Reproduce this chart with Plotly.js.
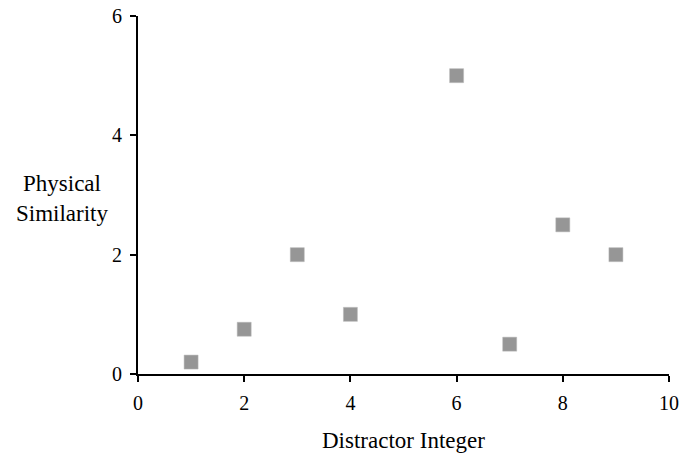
<!DOCTYPE html>
<html>
<head>
<meta charset="utf-8">
<script src="https://cdn.plot.ly/plotly-3.0.1.min.js"></script>
<style>html,body{margin:0;padding:0;background:#fff;}#chart{width:681px;height:458px;}</style>
</head>
<body>
<div id="chart"></div>
<script>
const distractorInteger = [1, 2, 3, 4, 6, 7, 8, 9];
const physicalSimilarity = [0.2, 0.75, 2, 1, 5, 0.5, 2.5, 2];
const xTickValues = [0, 2, 4, 6, 8, 10];
const yTickValues = [0, 2, 4, 6];

const font = 'Liberation Serif, Times New Roman, serif';

const trace = {
  x: distractorInteger,
  y: physicalSimilarity,
  type: 'scatter',
  mode: 'markers',
  marker: {symbol: 'square', size: 14, color: 'rgb(150,150,150)', line: {width: 0.5, color: 'rgb(185,185,185)'}},
  cliponaxis: false,
  hoverinfo: 'none'
};

const layout = {
  width: 681, height: 458,
  margin: {l: 138, r: 12, t: 16, b: 84, pad: 0},
  paper_bgcolor: '#fff', plot_bgcolor: '#fff',
  showlegend: false,
  font: {family: font, size: 20, color: '#000'},
  xaxis: {
    range: [0, 10], tickvals: xTickValues, ticktext: xTickValues.map(String),
    showline: true, linecolor: '#000', linewidth: 2,
    ticks: 'outside', ticklen: 6, tickwidth: 2, tickcolor: '#000',
    showgrid: false, zeroline: false, fixedrange: true,
    tickfont: {family: font, size: 20},
    ticklabelstandoff: 4
  },
  yaxis: {
    range: [0, 6], tickvals: yTickValues, ticktext: yTickValues.map(String),
    showline: true, linecolor: '#000', linewidth: 2,
    ticks: 'outside', ticklen: 6, tickwidth: 2, tickcolor: '#000',
    showgrid: false, zeroline: false, fixedrange: true,
    tickfont: {family: font, size: 20},
    ticklabelstandoff: 4
  },
  annotations: [{
    text: 'Physical<br>Similarity', xref: 'paper', yref: 'paper',
    x: -0.143, y: 0.489, xanchor: 'center', yanchor: 'middle', showarrow: false,
    font: {family: font, size: 23, color: '#000'}, align: 'center'
  }, {
    text: 'Distractor Integer', xref: 'paper', yref: 'paper',
    x: 0.5, y: -0.187, xanchor: 'center', yanchor: 'middle', showarrow: false,
    font: {family: font, size: 23, color: '#000'}
  }]
};

Plotly.newPlot('chart', [trace], layout, {displayModeBar: false, staticPlot: true});
</script>
</body>
</html>
